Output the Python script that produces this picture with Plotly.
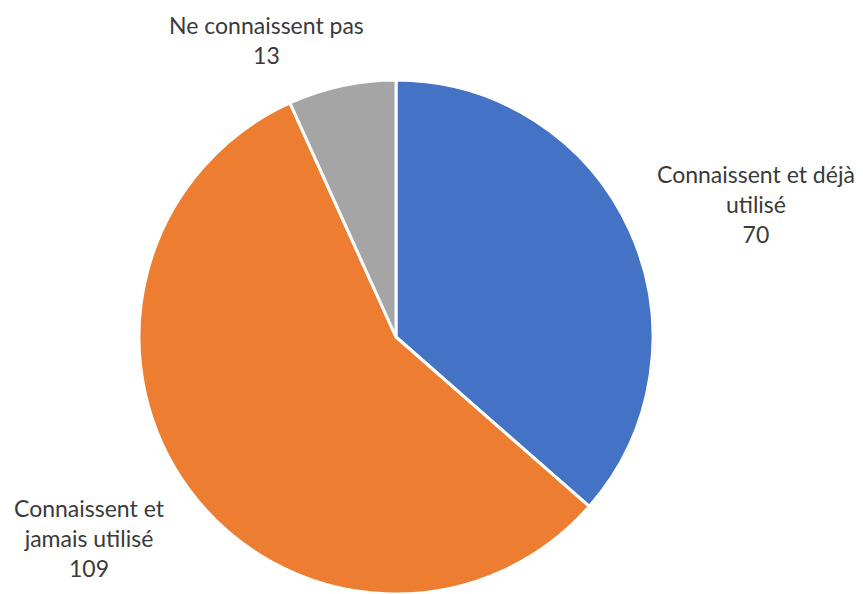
import plotly.graph_objects as go

# Survey answers and counts
categories = ["Connaissent et déjà utilisé", "Connaissent et jamais utilisé", "Ne connaissent pas"]
label_lines = [["Connaissent et déjà", "utilisé"], ["Connaissent et", "jamais utilisé"], ["Ne connaissent pas"]]
counts = [70, 109, 13]
colors = ["#4472C4", "#ED7D31", "#A5A5A5"]

W, H = 863, 594

fig = go.Figure(
    go.Pie(
        labels=categories,
        values=counts,
        sort=False,
        direction="clockwise",
        rotation=0,
        marker=dict(colors=colors, line=dict(color="white", width=3)),
        textinfo="none",
        hoverinfo="label+value",
        domain=dict(x=[139 / W, 653 / W], y=[0, 514 / H]),
        showlegend=False,
    )
)

# Category labels placed around the pie, each followed by its count
label_pos = [(756, 204), (89, 538), (266, 40)]
annotations = []
for lines, n, (px, py) in zip(label_lines, counts, label_pos):
    annotations.append(
        dict(
            text="<br>".join(lines + [str(n)]),
            x=px / W,
            y=1 - py / H,
            xref="paper",
            yref="paper",
            xanchor="center",
            yanchor="middle",
            align="center",
            showarrow=False,
            font=dict(family="Lato", size=23, color="#3a3a3a"),
        )
    )

fig.update_layout(
    width=W,
    height=H,
    margin=dict(l=0, r=0, t=0, b=0),
    paper_bgcolor="white",
    plot_bgcolor="white",
    annotations=annotations,
)

fig.write_html("out.html")
